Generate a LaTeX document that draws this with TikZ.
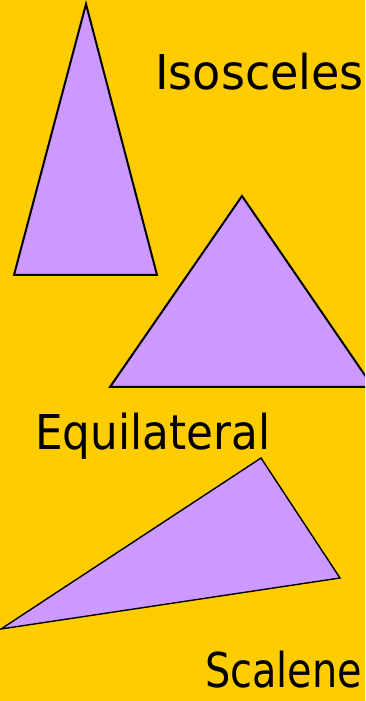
\documentclass[tikz,border=0pt]{standalone}
\usepackage{fontspec}
\setmainfont{DejaVu Sans}
\definecolor{bgyellow}{HTML}{FFCC00}
\definecolor{lavender}{HTML}{CC99FF}
\tikzset{
  tri/.style={fill=lavender, draw=black, line width=2pt, line join=miter},
  label/.style={inner sep=0pt, anchor=base west, font=\fontsize{48}{56}\selectfont, text=black}
}
\begin{document}
\begin{tikzpicture}[x=1pt,y=1pt]
  \useasboundingbox (0,0) rectangle (365,701);
  \clip (0,0) rectangle (365,701);
  \fill[bgyellow] (0,0) rectangle (365,701);
  % Isosceles triangle
  \coordinate (iA) at (86,697);
  \coordinate (iB) at (14,426);
  \coordinate (iC) at (157,426);
  \draw[tri] (iA) -- (iB) -- (iC) -- cycle;
  % Equilateral triangle
  \coordinate (eA) at (242,505);
  \coordinate (eB) at (110,314);
  \coordinate (eC) at (373,314);
  \draw[tri] (eA) -- (eB) -- (eC) -- cycle;
  % Scalene triangle
  \coordinate (sA) at (261,243);
  \coordinate (sB) at (340,123);
  \coordinate (sC) at (1,72);
  \draw[tri, line width=1.4pt] (sA) -- (sB) -- (sC) -- cycle;
  % Labels
  \node[label] (iso) at (155,611) {\scalebox{0.96}[1]{Isosceles}};
  \node[label] (equ) at (35,251) {\scalebox{0.91}[1]{Equilateral}};
  \node[label] (sca) at (205,13) {\scalebox{0.83}[1]{Scalene}};
\end{tikzpicture}
\end{document}
